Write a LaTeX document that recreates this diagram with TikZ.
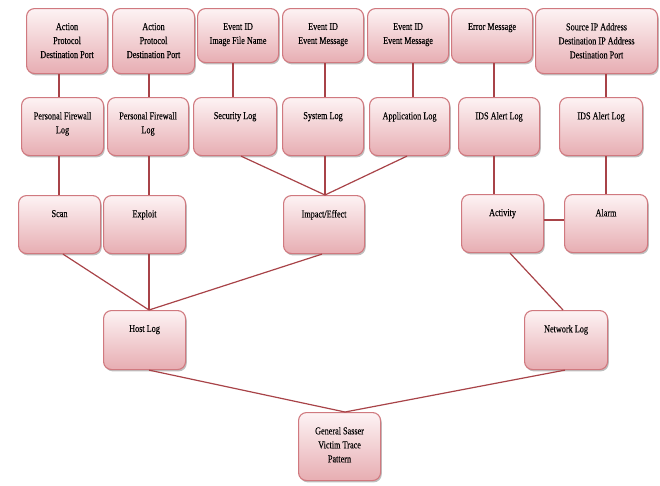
\documentclass[tikz,border=0pt]{standalone}
\usepackage{fontspec}
\setmainfont{Liberation Serif}[FakeStretch=0.78,FakeBold=0.1]
\usetikzlibrary{shadows}
\definecolor{boxborder}{HTML}{D0797F}
\definecolor{boxtop}{HTML}{FDF3F4}
\definecolor{boxbot}{HTML}{E7ADB2}
\definecolor{linkred}{HTML}{A84348}
\tikzset{
  box/.style={draw=boxborder, line width=1.1pt, rounded corners=8pt,
    top color=boxtop, bottom color=boxbot, inner sep=0pt, anchor=north west,
    drop shadow={shadow xshift=1.2pt, shadow yshift=-1.8pt, fill=black!50, opacity=0.5}},
  link/.style={draw=linkred, line width=1.2pt}
}
\newcommand\mybox[6]{%
  \node[box] (#1) at (#2,#3) {\parbox[b][#5pt][t]{#4pt}{\centering\fontsize{10.5}{14}\selectfont\vspace*{14.5pt}#6\par}};}
\begin{document}
\begin{tikzpicture}[x=1pt,y=-1pt]
\useasboundingbox (0,0) rectangle (660,485);
% row 1
\mybox{b1}{26}{8}{81}{65}{Action\\Protocol\\Destination Port}
\mybox{b2}{112}{8}{82}{65}{Action\\Protocol\\Destination Port}
\mybox{b3}{197}{8}{81}{54}{Event ID\\Image File Name}
\mybox{b4}{282}{8}{81}{54}{Event ID\\Event Message}
\mybox{b5}{367}{8}{81}{54}{Event ID\\Event Message}
\mybox{b6}{451}{8}{81}{54}{Error Message}
\mybox{b7}{535}{8}{122}{65}{Source IP Address\\Destination IP Address\\Destination Port}
% row 2
\mybox{l1}{21}{97}{82}{58}{Personal Firewall\\Log}
\mybox{l2}{107}{97}{81}{58}{Personal Firewall\\Log}
\mybox{l3}{193}{97}{83}{58}{Security Log}
\mybox{l4}{282}{97}{81}{58}{System Log}
\mybox{l5}{369}{97}{80}{58}{Application Log}
\mybox{l6}{458}{97}{81}{58}{IDS Alert Log}
\mybox{l7}{559}{97}{83}{58}{IDS Alert Log}
% row 3
\mybox{scan}{18}{195}{82}{58}{Scan}
\mybox{exploit}{103}{195}{82}{58}{Exploit}
\mybox{impact}{283}{195}{81}{58}{Impact/Effect}
\mybox{activity}{461}{194}{82}{58}{Activity}
\mybox{alarm}{564}{194}{83}{58}{Alarm}
% row 4
\mybox{host}{103}{310}{82}{59}{Host Log}
\mybox{network}{524}{310}{83}{59}{Network Log}
% bottom
\mybox{sasser}{298}{412}{82}{68}{General Sasser\\Victim Trace\\Pattern}
% connectors
\draw[link] (b1.south -| 59,0) -- (l1.north -| 59,0);
\draw[link] (b2.south -| 149,0) -- (l2.north -| 149,0);
\draw[link] (b3.south -| 233,0) -- (l3.north -| 233,0);
\draw[link] (b4.south -| 325,0) -- (l4.north -| 325,0);
\draw[link] (b5.south -| 413,0) -- (l5.north -| 413,0);
\draw[link] (b6.south -| 494,0) -- (l6.north -| 494,0);
\draw[link] (b7.south -| 606,0) -- (l7.north -| 606,0);
\draw[link] (l1.south -| 59,0) -- (scan.north -| 59,0);
\draw[link] (l2.south -| 149,0) -- (exploit.north -| 149,0);
\draw[link] (l3.south -| 241,0) -- (impact.north -| 325,0);
\draw[link] (l4.south -| 325,0) -- (impact.north -| 325,0);
\draw[link] (l5.south -| 407,0) -- (impact.north -| 325,0);
\draw[link] (l6.south -| 494,0) -- (activity.north -| 494,0);
\draw[link] (l7.south -| 606,0) -- (alarm.north -| 606,0);
\draw[link] (activity.east |- 0,220) -- (alarm.west |- 0,220);
\draw[link] (scan.south -| 63,0) -- (host.north -| 149,0);
\draw[link] (exploit.south -| 149,0) -- (host.north -| 149,0);
\draw[link] (impact.south -| 322,0) -- (host.north -| 149,0);
\draw[link] (activity.south -| 510,0) -- (network.north -| 563,0);
\draw[link] (host.south -| 149,0) -- (sasser.north -| 345,0);
\draw[link] (network.south -| 565,0) -- (sasser.north -| 345,0);
\end{tikzpicture}
\end{document}
